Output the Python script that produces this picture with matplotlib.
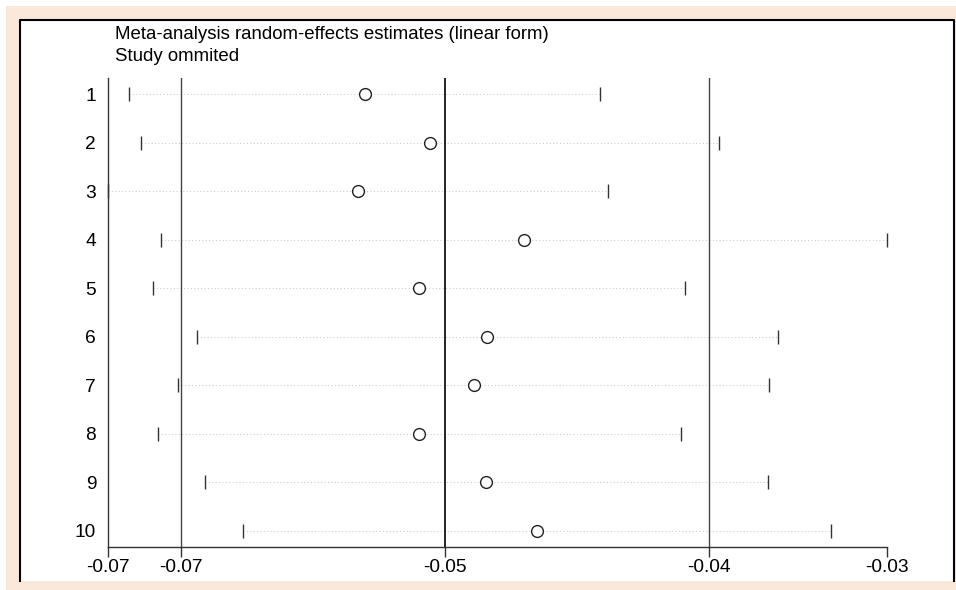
import matplotlib
matplotlib.use('Agg')
import matplotlib.pyplot as plt
from matplotlib.patches import Rectangle
from matplotlib.lines import Line2D

plt.rcParams['font.family'] = ['Liberation Sans', 'DejaVu Sans']

# Data (study omitted -> random-effects estimate and 95% CI)
studies = ['1', '2', '3', '4', '5', '6', '7', '8', '9', '10']
estimate = [-0.0562, -0.05295, -0.05655, -0.04825, -0.0535, -0.0501, -0.05075, -0.0535, -0.05015, -0.0476]
lower = [-0.0680, -0.0674, -0.06905, -0.0664, -0.0668, -0.0646, -0.06555, -0.06655, -0.0642, -0.0623]
upper = [-0.04445, -0.0385, -0.04405, -0.0301, -0.0402, -0.03555, -0.0360, -0.0404, -0.03605, -0.0329]
overall_est = -0.0522
overall_lower = -0.0654
overall_upper = -0.0390

title_lines = ['Meta-analysis random-effects estimates (linear form)', 'Study ommited']

W, H = 956, 590
fig = plt.figure(figsize=(W / 100, H / 100), dpi=100, facecolor='white')


def fx(px):
    return px / W


def fy(py):
    return 1 - py / H


# background frame
fig.patches.append(Rectangle((fx(6), 0), 1 - fx(6), fy(6), transform=fig.transFigure,
                             facecolor='#FAE8DA', edgecolor='none', zorder=-3))
fig.patches.append(Rectangle((fx(20), fy(581)), fx(954) - fx(20), fy(20) - fy(581),
                             transform=fig.transFigure, facecolor='white', edgecolor='none', zorder=-2))
fig.lines.append(Line2D([fx(20), fx(20), fx(954), fx(954)], [fy(581), fy(20), fy(20), fy(581)],
                        transform=fig.transFigure, color='black', lw=1.5, zorder=-1))

ax = fig.add_axes([fx(108), fy(547), fx(887) - fx(108), fy(78) - fy(547)])
ax.set_facecolor('none')

ypos = list(range(1, len(studies) + 1))
for lo, up, y in zip(lower, upper, ypos):
    ax.plot([lo, up], [y, y], color='#c4c4c4', ls=(0, (1, 2.5)), lw=0.7, zorder=1, clip_on=False)

ax.plot(lower, ypos, ls='none', marker='|', ms=9.5, mew=1.0, color='#333333', zorder=3, clip_on=False)
ax.plot(upper, ypos, ls='none', marker='|', ms=9.5, mew=1.0, color='#333333', zorder=3, clip_on=False)
ax.plot(estimate, ypos, ls='none', marker='o', ms=8.5, mfc='white', mec='#222222', mew=1.0,
        zorder=4, clip_on=False)

ax.axvline(overall_lower, color='#444444', lw=1.0, zorder=2)
ax.axvline(overall_est, color='black', lw=1.2, zorder=2)
ax.axvline(overall_upper, color='#444444', lw=1.0, zorder=2)

xmin, xmax = min(lower), max(upper)
ax.set_xlim(xmin, xmax)
ax.set_ylim(len(studies) + 0.33, 0.67)

xt = [xmin, overall_lower, overall_est, overall_upper, xmax]
ax.set_xticks(xt)
ax.set_xticklabels([f'{v:.2f}' for v in xt])
ax.set_yticks(ypos)
ax.set_yticklabels(studies)

ax.tick_params(axis='x', length=7, width=1, pad=1.5, labelsize=13.8, color='#333333', direction='out')
ax.tick_params(axis='y', length=0, pad=8.5, labelsize=13.8)

for s in ['top', 'right']:
    ax.spines[s].set_visible(False)
for s in ['left', 'bottom']:
    ax.spines[s].set_color('#333333')
    ax.spines[s].set_linewidth(1.0)

fig.text(fx(115), fy(39), title_lines[0], fontsize=13.4, va='baseline', ha='left')
fig.text(fx(115), fy(61), title_lines[1], fontsize=13.4, va='baseline', ha='left')

fig.savefig('out.png', dpi=100, facecolor='white')
